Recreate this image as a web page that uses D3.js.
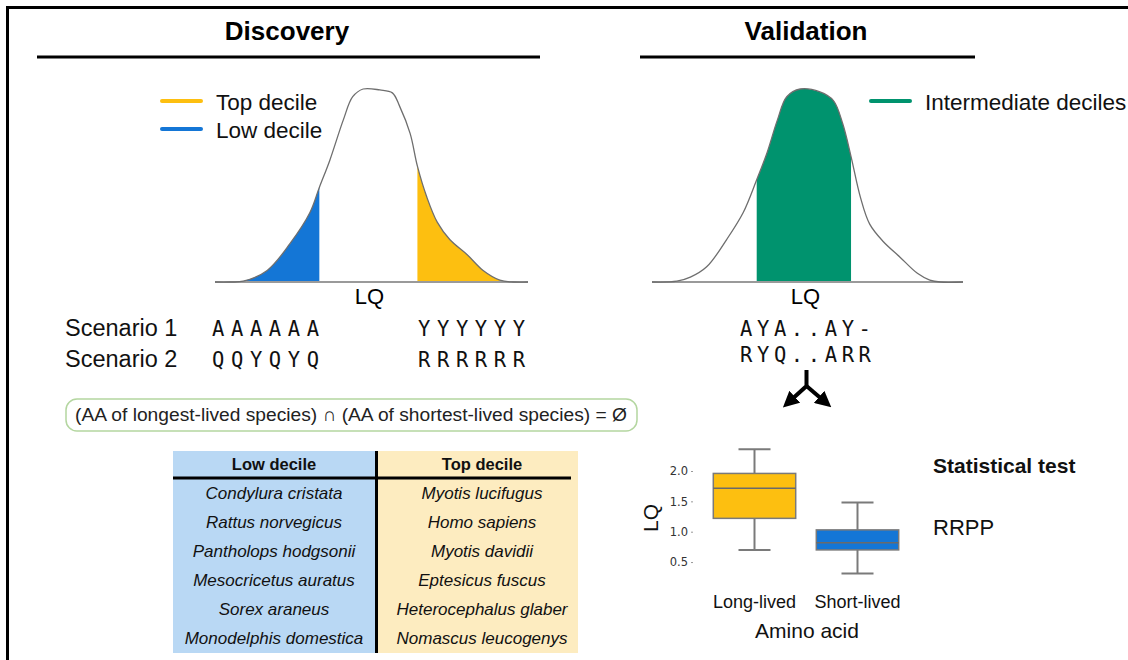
<!DOCTYPE html>
<html>
<head>
<meta charset="utf-8">
<script src="https://cdn.jsdelivr.net/npm/d3@7.9.0/dist/d3.min.js"></script>
<style>
  html, body { margin: 0; padding: 0; background: #fff; }
  svg { display: block; font-family: "Liberation Sans", Arial, sans-serif; }
</style>
</head>
<body>
<svg id="chart" width="1128" height="660"></svg>
<script>
// ---- data ----
const discoveryLQ = [0, 0.14, 0.27, 0.5, 0.72, 0.91, 1.0, 1.1, 1.23, 1.32, 1.42, 1.58, 1.7, 1.77, 1.87, 1.94, 2.03, 2.13, 2.25, 2.42, 2.57, 2.73, 2.86, 3.0];
const discoveryDensity = [0, 0, 0.004, 0.06, 0.2, 0.36, 0.49, 0.63, 0.84, 0.96, 1.0, 0.995, 0.98, 0.91, 0.77, 0.6, 0.44, 0.31, 0.22, 0.14, 0.06, 0.01, 0, 0];
const lowDecileCut = 1.0;
const topDecileCut = 1.94;

const validationLQ = [0, 0.24, 0.37, 0.53, 0.72, 0.88, 1.01, 1.11, 1.21, 1.3, 1.43, 1.62, 1.75, 1.84, 1.92, 2.01, 2.1, 2.23, 2.39, 2.56, 2.68, 2.78, 3.0];
const validationDensity = [0, 0.004, 0.025, 0.08, 0.22, 0.36, 0.53, 0.67, 0.84, 0.96, 1.0, 0.985, 0.94, 0.82, 0.65, 0.44, 0.3, 0.21, 0.13, 0.045, 0.01, 0, 0];
const intermediateCuts = [1.01, 1.92];

const scenarioLabels = ['Scenario 1', 'Scenario 2'];
const scenarioLow = ['AAAAAA', 'QQYQYQ'];
const scenarioTop = ['YYYYYY', 'RRRRRR'];
const validationSeqs = ['AYA..AY-', 'RYQ..ARR'];

const tableHeaders = ['Low decile', 'Top decile'];
const lowDecileSpecies = ['Condylura cristata', 'Rattus norvegicus', 'Pantholops hodgsonii', 'Mesocricetus auratus', 'Sorex araneus', 'Monodelphis domestica'];
const topDecileSpecies = ['Myotis lucifugus', 'Homo sapiens', 'Myotis davidii', 'Eptesicus fuscus', 'Heterocephalus glaber', 'Nomascus leucogenys'];

const boxGroups = ['Long-lived', 'Short-lived'];
const boxMin = [0.70, 0.31];
const boxQ1 = [1.22, 0.70];
const boxMedian = [1.715, 0.82];
const boxQ3 = [1.96, 1.03];
const boxMax = [2.36, 1.48];
const boxTicks = [0.5, 1.0, 1.5, 2.0];

const YELLOW = '#fdbf10';
const BLUE = '#1476d6';
const GREEN = '#00936e';

const svg = d3.select('#chart');

// frame (left + top edges visible)
svg.append('path')
  .attr('d', 'M7.5,660 V7.5 H1128')
  .attr('fill', 'none')
  .attr('stroke', '#000')
  .attr('stroke-width', 3);

// section titles
function sectionTitle(text, cx, x0, x1) {
  svg.append('text')
    .attr('x', cx).attr('y', 40)
    .attr('text-anchor', 'middle')
    .attr('font-size', 26).attr('font-weight', 'bold')
    .text(text);
  svg.append('line')
    .attr('x1', x0).attr('x2', x1).attr('y1', 57).attr('y2', 57)
    .attr('stroke', '#000').attr('stroke-width', 3);
}
sectionTitle('Discovery', 287, 37, 540);
sectionTitle('Validation', 806, 640, 975);

// density plot helper
let clipId = 0;
function densityPlot(lq, dens, xRange, fills) {
  const x = d3.scaleLinear().domain([0, 3]).range(xRange);
  const y = d3.scaleLinear().domain([0, 1]).range([282, 89]);
  const pts = lq.map((d, i) => [d, dens[i]]);
  const area = d3.area().x(d => x(d[0])).y0(y(0)).y1(d => y(d[1])).curve(d3.curveCatmullRom.alpha(0.5));
  const line = d3.line().x(d => x(d[0])).y(d => y(d[1])).curve(d3.curveCatmullRom.alpha(0.5));
  const g = svg.append('g');

  fills.forEach(f => {
    const id = 'clip' + (clipId++);
    svg.append('clipPath').attr('id', id)
      .append('rect')
      .attr('x', x(f.from)).attr('width', x(f.to) - x(f.from))
      .attr('y', 0).attr('height', 282);
    g.append('path')
      .attr('d', area(pts))
      .attr('fill', f.color)
      .attr('clip-path', `url(#${id})`);
  });

  g.append('line')
    .attr('x1', x(0)).attr('x2', x(3)).attr('y1', y(0)).attr('y2', y(0))
    .attr('stroke', '#9a9a9a').attr('stroke-width', 2);
  g.append('path')
    .attr('d', line(pts))
    .attr('fill', 'none').attr('stroke', '#6e6e6e').attr('stroke-width', 1.3);
  g.append('text')
    .attr('x', x(1.48)).attr('y', 304)
    .attr('text-anchor', 'middle').attr('font-size', 22)
    .text('LQ');
  return x;
}

densityPlot(discoveryLQ, discoveryDensity, [215, 528], [
  { from: 0, to: lowDecileCut, color: BLUE },
  { from: topDecileCut, to: 3, color: YELLOW },
]);
densityPlot(validationLQ, validationDensity, [652, 963], [
  { from: intermediateCuts[0], to: intermediateCuts[1], color: GREEN },
]);

// legends
function legendItem(x, y, color, label) {
  svg.append('line')
    .attr('x1', x).attr('x2', x + 39).attr('y1', y).attr('y2', y)
    .attr('stroke', color).attr('stroke-width', 4).attr('stroke-linecap', 'round');
  svg.append('text')
    .attr('x', x + 54).attr('y', y + 8.5)
    .attr('font-size', 22.5).attr('fill', '#111')
    .text(label);
}
legendItem(162, 101, YELLOW, 'Top decile');
legendItem(162, 129, BLUE, 'Low decile');
legendItem(871, 101, GREEN, 'Intermediate deciles');

// scenarios
const rowY = d3.scalePoint().domain(scenarioLabels).range([336, 367]);
scenarioLabels.forEach((s, i) => {
  const yy = rowY(s);
  svg.append('text').attr('x', 65).attr('y', yy).attr('font-size', 23.5).attr('fill', '#111').text(s);
  svg.append('text').attr('x', 212).attr('y', yy)
    .attr('font-family', '"DejaVu Sans Mono", monospace').attr('font-size', 20.5)
    .attr('letter-spacing', 6.6).attr('fill', '#111').text(scenarioLow[i]);
  svg.append('text').attr('x', 418).attr('y', yy)
    .attr('font-family', '"DejaVu Sans Mono", monospace').attr('font-size', 20.5)
    .attr('letter-spacing', 6.6).attr('fill', '#111').text(scenarioTop[i]);
});
const valY = d3.scalePoint().domain(validationSeqs).range([336, 362]);
validationSeqs.forEach(s => {
  svg.append('text').attr('x', 740).attr('y', valY(s))
    .attr('font-family', '"DejaVu Sans Mono", monospace').attr('font-size', 20.5)
    .attr('letter-spacing', 4.6).attr('fill', '#111').text(s);
});

// rounded condition box
svg.append('rect')
  .attr('x', 66).attr('y', 399).attr('width', 571).attr('height', 32).attr('rx', 11)
  .attr('fill', 'none').attr('stroke', '#b4d6a0').attr('stroke-width', 1.5);
svg.append('text')
  .attr('x', 351).attr('y', 421).attr('text-anchor', 'middle')
  .attr('font-size', 19.2).attr('fill', '#222')
  .text('(AA of longest-lived species) \u2229 (AA of shortest-lived species) = \u00d8');

// fork arrow
svg.append('defs').append('marker')
  .attr('id', 'head').attr('viewBox', '0 0 10 10').attr('refX', 4).attr('refY', 5)
  .attr('markerWidth', 4).attr('markerHeight', 4).attr('orient', 'auto')
  .append('path').attr('d', 'M0,0 L10,5 L0,10 z').attr('fill', '#000');
svg.append('path')
  .attr('d', 'M806.5,370 V386 L790,401')
  .attr('fill', 'none').attr('stroke', '#000').attr('stroke-width', 4)
  .attr('marker-end', 'url(#head)');
svg.append('path')
  .attr('d', 'M806.5,386 L824,401')
  .attr('fill', 'none').attr('stroke', '#000').attr('stroke-width', 4)
  .attr('marker-end', 'url(#head)');

// species table
const tRow = d3.scaleBand().domain(d3.range(lowDecileSpecies.length)).range([478, 652]);
svg.append('rect').attr('x', 173).attr('y', 451).attr('width', 204).attr('height', 202).attr('fill', '#b9d8f4');
svg.append('rect').attr('x', 377).attr('y', 451).attr('width', 201).attr('height', 202).attr('fill', '#fdecc0');
svg.append('line').attr('x1', 376.5).attr('x2', 376.5).attr('y1', 451).attr('y2', 653)
  .attr('stroke', '#000').attr('stroke-width', 3);
svg.append('line').attr('x1', 173).attr('x2', 571).attr('y1', 478).attr('y2', 478)
  .attr('stroke', '#000').attr('stroke-width', 3);
const colCenter = [274, 482];
tableHeaders.forEach((h, i) => {
  svg.append('text').attr('x', colCenter[i]).attr('y', 470)
    .attr('text-anchor', 'middle').attr('font-size', 16.5).attr('font-weight', 'bold').attr('fill', '#111')
    .text(h);
  const col = i === 0 ? lowDecileSpecies : topDecileSpecies;
  col.forEach((sp, j) => {
    svg.append('text').attr('x', colCenter[i]).attr('y', tRow(j) + tRow.bandwidth() / 2 + 6)
      .attr('text-anchor', 'middle').attr('font-size', 17).attr('font-style', 'italic').attr('fill', '#111')
      .text(sp);
  });
});

// box plot
const bx = d3.scaleBand().domain(boxGroups).range([703, 909]).paddingInner(0.2).paddingOuter(0.1);
const by = d3.scaleLinear().domain([1, 2]).range([531.7, 471]);
const boxColors = [YELLOW, BLUE];
const bg = svg.append('g');

bg.append('g')
  .attr('transform', 'translate(693,0)')
  .call(d3.axisLeft(by).tickValues(boxTicks).tickFormat(d3.format('.1f')).tickSize(2).tickPadding(3))
  .call(g => g.select('.domain').remove())
  .call(g => g.selectAll('line').attr('stroke', '#999'))
  .call(g => g.selectAll('text').attr('font-family', '"DejaVu Sans", sans-serif').attr('font-size', 11.5).attr('fill', '#333'));

boxGroups.forEach((grp, i) => {
  const x0 = bx(grp);
  const w = bx.bandwidth();
  const cx = x0 + w / 2;
  const capW = 32;
  const stroke = '#7a7a7a';
  bg.append('line').attr('x1', cx).attr('x2', cx).attr('y1', by(boxMax[i])).attr('y2', by(boxQ3[i]))
    .attr('stroke', stroke).attr('stroke-width', 2);
  bg.append('line').attr('x1', cx).attr('x2', cx).attr('y1', by(boxQ1[i])).attr('y2', by(boxMin[i]))
    .attr('stroke', stroke).attr('stroke-width', 2);
  [boxMax[i], boxMin[i]].forEach(v => {
    bg.append('line').attr('x1', cx - capW / 2).attr('x2', cx + capW / 2).attr('y1', by(v)).attr('y2', by(v))
      .attr('stroke', stroke).attr('stroke-width', 2);
  });
  bg.append('rect').attr('x', x0).attr('y', by(boxQ3[i])).attr('width', w)
    .attr('height', by(boxQ1[i]) - by(boxQ3[i]))
    .attr('fill', boxColors[i]).attr('stroke', stroke).attr('stroke-width', 1.5);
  bg.append('line').attr('x1', x0).attr('x2', x0 + w).attr('y1', by(boxMedian[i])).attr('y2', by(boxMedian[i]))
    .attr('stroke', '#6a6a6a').attr('stroke-width', 1.5);
  bg.append('text').attr('x', cx).attr('y', 608).attr('text-anchor', 'middle')
    .attr('font-size', 18).attr('fill', '#111').text(grp);
});
bg.append('text').attr('x', 807).attr('y', 638).attr('text-anchor', 'middle')
  .attr('font-size', 21).attr('fill', '#111').text('Amino acid');
bg.append('text').attr('transform', 'translate(658,518) rotate(-90)').attr('text-anchor', 'middle')
  .attr('font-size', 21).attr('fill', '#111').text('LQ');

svg.append('text').attr('x', 933).attr('y', 473).attr('font-size', 21).attr('font-weight', 'bold').attr('fill', '#111')
  .text('Statistical test');
svg.append('text').attr('x', 933).attr('y', 535).attr('font-size', 22).attr('fill', '#111')
  .text('RRPP');
</script>
</body>
</html>
